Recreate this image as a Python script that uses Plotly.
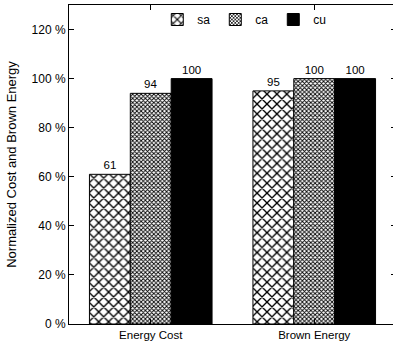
import plotly.graph_objects as go

categories = ["Energy Cost", "Brown Energy"]
series_names = ["sa", "ca", "cu"]
sa_values = [61, 95]
ca_values = [94, 100]
cu_values = [100, 100]
y_ticks = [0, 20, 40, 60, 80, 100, 120]
y_tick_labels = [f"{v} %" for v in y_ticks]

FONT = "Liberation Sans, Arial, Helvetica, sans-serif"

x_pos = [0, 1]
offsets = [-0.25, 0, 0.25]
styles = [
    dict(color="white", pattern=dict(shape="x", size=7, solidity=0.35, fgcolor="black", bgcolor="white", fillmode="replace")),
    dict(color="white", pattern=dict(shape="x", size=3, solidity=0.5, fgcolor="black", bgcolor="white", fillmode="replace")),
    dict(color="black"),
]

fig = go.Figure()
for name, vals, off, st in zip(series_names, [sa_values, ca_values, cu_values], offsets, styles):
    fig.add_trace(go.Bar(
        x=[p + off for p in x_pos], y=vals, name=name, width=0.25,
        marker=dict(line=dict(color="black", width=1), **st),
        text=[str(v) for v in vals], textposition="outside",
        textfont=dict(family=FONT, size=11.5, color="black"),
        cliponaxis=False,
    ))

fig.update_layout(
    width=396, height=350, autosize=False,
    margin=dict(l=69, r=0, t=5, b=26, pad=0),
    plot_bgcolor="white", paper_bgcolor="white",
    font=dict(family=FONT, size=11.5, color="black"),
    barmode="overlay",
    showlegend=True,
    legend=dict(orientation="h", x=0.27, y=1.0, xanchor="left", yanchor="top",
                bgcolor="rgba(0,0,0,0)", font=dict(size=12),
                traceorder="normal"),
)
fig.update_xaxes(
    range=[-0.5, 1.5], tickvals=x_pos, ticktext=categories,
    showline=True, linecolor="black", linewidth=1, mirror="ticks",
    ticks="inside", ticklen=5, tickcolor="black", showgrid=False, zeroline=False,
    tickfont=dict(size=11.5), automargin=False,
)
fig.update_yaxes(
    range=[0, 130], tickvals=y_ticks, ticktext=y_tick_labels,
    showline=True, linecolor="black", linewidth=1, mirror="ticks",
    ticks="inside", ticklen=5, tickcolor="black", showgrid=False, zeroline=False,
    title=dict(text="Normalized Cost and Brown Energy", font=dict(size=13), standoff=12),
    tickfont=dict(size=12), automargin=False,
)

fig.write_html("out.html", post_script="document.body.style.margin='0';document.body.style.overflow='hidden';")
